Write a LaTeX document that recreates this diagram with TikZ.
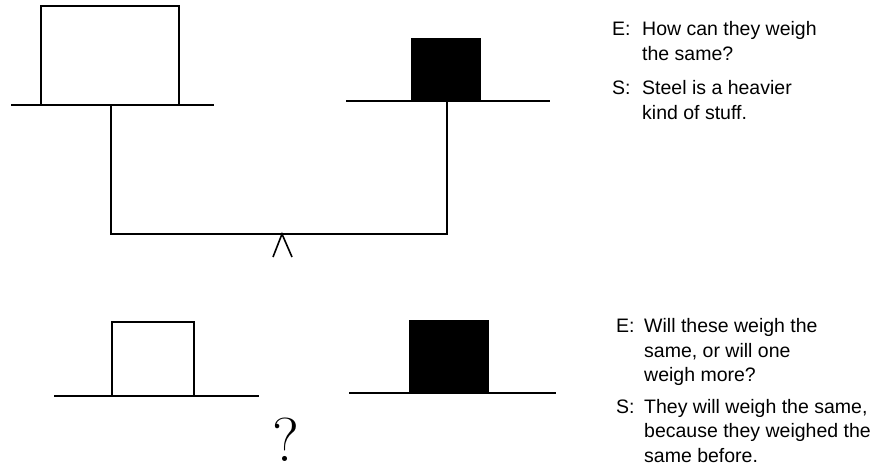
\documentclass[tikz,border=0pt]{standalone}
\usepackage{fontspec}
\newfontfamily\dialogfont{Liberation Sans}
\begin{document}
\begin{tikzpicture}[x=1pt,y=-1pt,
  stroke/.style={line width=1.6pt},
  whitebox/.style={stroke, draw=black, fill=white},
  blackbox/.style={fill=black},
  dlg/.style={font=\dialogfont\fontsize{19.5}{24}\selectfont, anchor=base west, inner sep=0pt},
  query/.style={font=\fontsize{62}{62}\selectfont, inner sep=0pt}]
\useasboundingbox (0,0) rectangle (878,467);

% ---- balance with both blocks, beams level ----
\draw[whitebox] (41,6) rectangle (179,105);
\draw[stroke] (11,105) -- (214,105);
\fill[blackbox] (411,38) rectangle (481,101);
\draw[stroke] (346,101) -- (550,101);
\draw[stroke] (111,105) -- (111,234) -- (447,234) -- (447,101);
\draw[stroke] (273,257) -- (282,234) -- (292,257);

% ---- the two blocks on separate pans ----
\draw[whitebox] (112,322) rectangle (194,396);
\draw[stroke] (54,396) -- (259,396);
\fill[blackbox] (409,320) rectangle (489,393);
\draw[stroke] (349,393) -- (556,393);
\node[query] (q) at (286,440) {?};

% ---- dialogue, first exchange ----
\node[dlg] (e1k) at (612,35) {E:};
\node[dlg] (e1a) at (642,35) {How can they weigh};
\node[dlg] (e1b) at (642,60) {the same?};
\node[dlg] (s1k) at (612,94) {S:};
\node[dlg] (s1a) at (642,94) {Steel is a heavier};
\node[dlg] (s1b) at (642,119) {kind of stuff.};

% ---- dialogue, second exchange ----
\node[dlg] (e2k) at (616,332) {E:};
\node[dlg] (e2a) at (644,332) {Will these weigh the};
\node[dlg] (e2b) at (644,357) {same, or will one};
\node[dlg] (e2c) at (644,381) {weigh more?};
\node[dlg] (s2k) at (616,413) {S:};
\node[dlg] (s2a) at (644,413) {They will weigh the same,};
\node[dlg] (s2b) at (644,437) {because they weighed the};
\node[dlg] (s2c) at (644,462) {same before.};
\end{tikzpicture}
\end{document}
